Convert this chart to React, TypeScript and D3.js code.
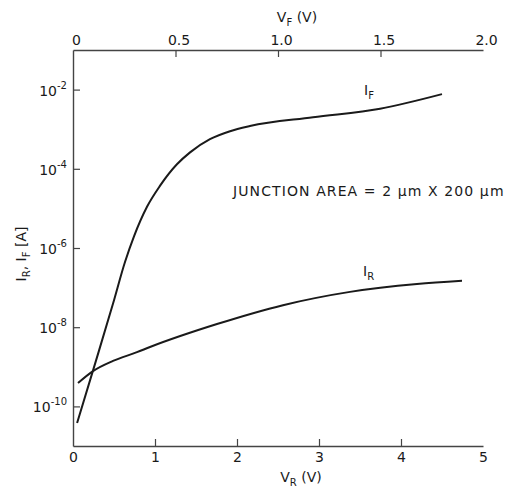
import React, { useEffect, useRef } from "react";
import * as d3 from "d3";

// forward current vs forward voltage (top axis)
const vF = [0.02, 0.107, 0.195, 0.254, 0.298, 0.361, 0.424, 0.507, 0.571, 0.668, 0.766, 0.863, 1.171, 1.498, 1.8];
const iF = [3.8e-11, 1.17e-9, 3.9e-8, 4.5e-7, 2.0e-6, 1.1e-5, 3.7e-5, 1.3e-4, 2.6e-4, 5.6e-4, 8.9e-4, 1.2e-3, 2.0e-3, 3.3e-3, 7.7e-3];

// reverse current vs reverse voltage (bottom axis)
const vR = [0.061, 0.244, 0.488, 0.78, 0.939, 1.756, 2.561, 3.378, 4.195, 4.744];
const iR = [3.9e-10, 7.8e-10, 1.41e-9, 2.34e-9, 3.16e-9, 1.2e-8, 3.6e-8, 7.8e-8, 1.23e-7, 1.48e-7];

const vRTicks = [0, 1, 2, 3, 4, 5];
const vFTicks = [0, 0.5, 1.0, 1.5, 2.0];
const iTicks = [1e-2, 1e-4, 1e-6, 1e-8, 1e-10];

const FONT = "'DejaVu Sans', sans-serif";
const INK = "#1a1a1a";

function App() {
  const ref = useRef<SVGSVGElement>(null);

  useEffect(() => {
    const svg = d3.select(ref.current);
    svg.selectAll("*").remove();

    const left = 73, right = 483, top = 50, bottom = 446;

    const xR = d3.scaleLinear().domain([0, 5]).range([left, right]);
    const xF = d3.scaleLinear().domain([0, 2]).range([left, right]);
    const y = d3.scaleLog().domain([1e-11, 1e-1]).range([bottom, top]);

    // bottom axis
    const gb = svg.append("g")
      .attr("transform", "translate(0," + bottom + ")")
      .call(d3.axisBottom(xR).tickValues(vRTicks).tickSizeInner(-7).tickSizeOuter(0).tickPadding(6).tickFormat(d3.format("d")));

    // top axis
    const gt = svg.append("g")
      .attr("transform", "translate(0," + top + ")")
      .call(d3.axisTop(xF).tickValues(vFTicks).tickSizeInner(-7).tickSizeOuter(0).tickPadding(5)
        .tickFormat((d: any) => (d === 0 ? "0" : d3.format(".1f")(d))));

    // left axis
    const gl = svg.append("g")
      .attr("transform", "translate(" + left + ",0)")
      .call(d3.axisLeft(y).tickValues(iTicks).tickSizeInner(-7).tickSizeOuter(0).tickFormat(() => ""));

    [gb, gt, gl].forEach((g) => {
      g.select(".domain").attr("stroke", "#444").attr("stroke-width", 1.4);
      g.selectAll(".tick line").attr("stroke", "#444").attr("stroke-width", 1.2);
      g.selectAll("text").attr("font-family", FONT).attr("font-size", 14).attr("fill", INK);
    });
    gb.selectAll(".tick").filter((d: any) => d === 0 || d === 5).select("line").remove();
    gt.selectAll(".tick").filter((d: any) => d === 0 || d === 2).select("line").remove();
    gt.selectAll(".tick text").attr("dx", 3);

    // y tick labels with superscripts
    const yl = svg.append("g").attr("font-family", FONT).attr("fill", INK);
    iTicks.forEach((v) => {
      const e = Math.round(Math.log10(v));
      const t = yl.append("text")
        .attr("x", 67)
        .attr("y", y(v) + 6)
        .attr("text-anchor", "end")
        .attr("font-size", 14);
      t.append("tspan").text("10");
      t.append("tspan").attr("dy", -7).attr("font-size", 10).text(String(e));
    });

    // curves
    const lineF = d3.line<number>()
      .x((d, i) => xF(vF[i]))
      .y((d) => y(d))
      .curve(d3.curveMonotoneX);
    const lineR = d3.line<number>()
      .x((d, i) => xR(vR[i]))
      .y((d) => y(d))
      .curve(d3.curveMonotoneX);

    svg.append("path").attr("d", lineF(iF) as string)
      .attr("fill", "none").attr("stroke", INK).attr("stroke-width", 2);
    svg.append("path").attr("d", lineR(iR) as string)
      .attr("fill", "none").attr("stroke", INK).attr("stroke-width", 2);

    // curve labels
    const lab = (x: number, yy: number, main: string, sub: string) => {
      const t = svg.append("text").attr("x", x).attr("y", yy)
        .attr("font-family", FONT).attr("font-size", 14).attr("fill", INK);
      t.append("tspan").text(main);
      t.append("tspan").attr("dy", 4).attr("font-size", 10).text(sub);
    };
    lab(364, 95, "I", "F");
    lab(363, 276, "I", "R");

    // axis titles
    const vt = (x: number, yy: number, sub: string) => {
      const t = svg.append("text").attr("x", x).attr("y", yy).attr("text-anchor", "middle")
        .attr("font-family", FONT).attr("font-size", 14).attr("fill", INK);
      t.append("tspan").text("V");
      t.append("tspan").attr("dy", 4).attr("font-size", 10).text(sub);
      t.append("tspan").attr("dy", -4).text(" (V)");
    };
    vt(297, 22, "F");
    vt(301, 482, "R");

    const yt = svg.append("text")
      .attr("transform", "translate(26,254) rotate(-90)")
      .attr("text-anchor", "middle")
      .attr("font-family", FONT).attr("font-size", 14).attr("fill", INK);
    yt.append("tspan").text("I");
    yt.append("tspan").attr("dy", 4).attr("font-size", 10).text("R");
    yt.append("tspan").attr("dy", -4).text(", I");
    yt.append("tspan").attr("dy", 4).attr("font-size", 10).text("F");
    yt.append("tspan").attr("dy", -4).text(" [A]");

    svg.append("text").attr("x", 233).attr("y", 196)
      .attr("font-family", FONT).attr("font-size", 14).attr("letter-spacing", 1.1).attr("fill", INK)
      .text("JUNCTION AREA = 2 \u03bcm X 200 \u03bcm");
  });

  return (
    <svg
      ref={ref}
      width={508}
      height={489}
      style={{ position: "fixed", left: 0, top: 0, display: "block", background: "#fff" }}
    />
  );
}

export default App;
